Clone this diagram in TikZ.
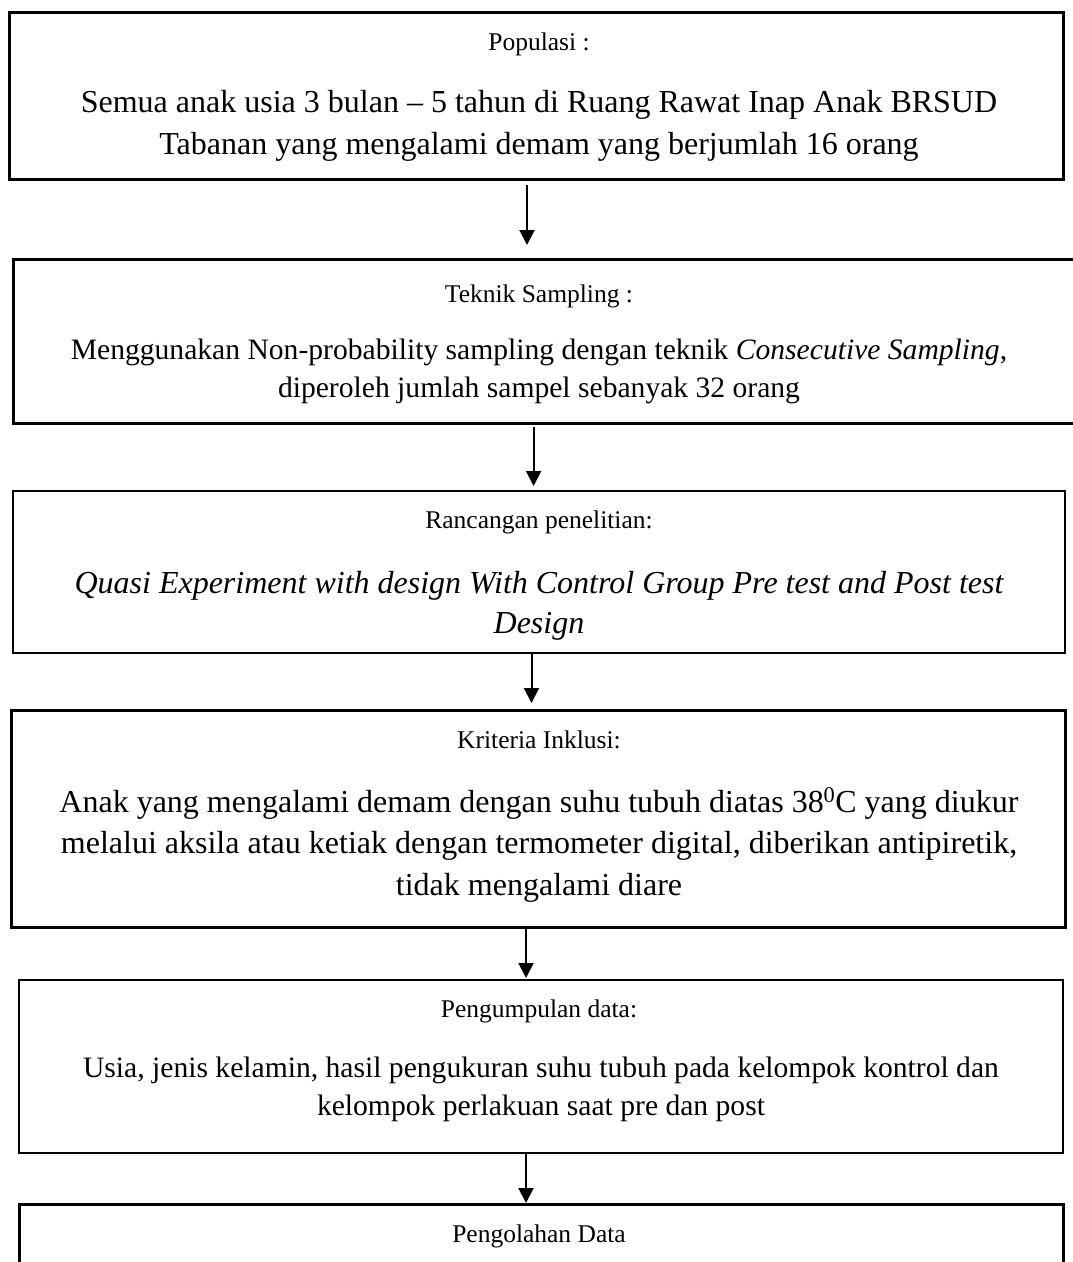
\documentclass[tikz,border=0pt]{standalone}
\usepackage{fontspec}
\setmainfont{Liberation Serif}
\usetikzlibrary{arrows.meta}
\tikzset{
  box/.style={draw=black, line width=#1, rectangle, inner sep=0pt, outer sep=0pt},
  box/.default=2pt,
  ttl/.style={anchor=base, inner sep=0pt, font=\fontsize{25.5}{30}\selectfont},
  bodyL/.style={anchor=base, inner sep=0pt, font=\fontsize{32}{38}\selectfont},
  bodyM/.style={anchor=base, inner sep=0pt, font=\fontsize{29.6}{35}\selectfont},
  arr/.style={line width=2pt, -{Triangle[length=15pt,width=15pt]}}
}
\begin{document}
\begin{tikzpicture}[x=1pt,y=-1pt]
\useasboundingbox[fill=white] (0,0) rectangle (1073,1262);

% boxes
\node[box=3pt, minimum width=1054pt, minimum height=167pt] (b1) at (536,95.5) {};
\node[box=3pt, minimum width=1062pt, minimum height=164pt] (b2) at (544,341) {};
\node[box=2pt, minimum width=1052pt, minimum height=162pt] (b3) at (539,572) {};
\node[box=3pt, minimum width=1054pt, minimum height=217pt] (b4) at (538,818.5) {};
\node[box=2pt, minimum width=1044pt, minimum height=173pt] (b5) at (541,1066.5) {};
\node[box=3pt, minimum width=1044pt, minimum height=86pt] (b6) at (541,1247) {};

% box 1
\node[ttl] (t1) at (539,50) {Populasi :};
\node[bodyL] (t1a) at (539,112) {Semua anak usia 3 bulan – 5 tahun di Ruang Rawat Inap Anak BRSUD};
\node[bodyL] (t1b) at (539,154) {Tabanan yang mengalami demam yang berjumlah 16 orang};

% box 2
\node[ttl] (t2) at (539,302) {Teknik Sampling :};
\node[bodyM] (t2a) at (539,359) {Menggunakan Non-probability sampling dengan teknik \textit{Consecutive Sampling},};
\node[bodyM] (t2b) at (539,397) {diperoleh jumlah sampel sebanyak 32 orang};

% box 3
\node[ttl] (t3) at (539,528) {Rancangan penelitian:};
\node[bodyL] (t3a) at (539,593) {\itshape Quasi Experiment with design With Control Group Pre test and Post test};
\node[bodyL] (t3b) at (539,633) {\itshape Design};

% box 4
\node[ttl] (t4) at (539,748) {Kriteria Inklusi:};
\node[bodyL] (t4a) at (539,812) {Anak yang mengalami demam dengan suhu tubuh diatas 38\textsuperscript{0}C yang diukur};
\node[bodyL] (t4b) at (539,853) {melalui aksila atau ketiak dengan termometer digital, diberikan antipiretik,};
\node[bodyL] (t4c) at (539,895) {tidak mengalami diare};

% box 5
\node[ttl] (t5) at (539,1017) {Pengumpulan data:};
\node[bodyM] (t5a) at (541,1077) {Usia, jenis kelamin, hasil pengukuran suhu tubuh pada kelompok kontrol dan};
\node[bodyM] (t5b) at (541,1115) {kelompok perlakuan saat pre dan post};

% box 6
\node[ttl] (t6) at (539,1242) {Pengolahan Data};

% arrows
\draw[arr] ([xshift=-9pt,yshift=-6pt]b1.south) -- ([xshift=-17pt,yshift=14pt]b2.north);
\draw[arr] ([xshift=-10.4pt,yshift=-4pt]b2.south) -- ([xshift=-5.4pt,yshift=5pt]b3.north);
\draw[arr] ([xshift=-7.5pt]b3.south) -- ([xshift=-6.5pt,yshift=7pt]b4.north);
\draw[arr] ([xshift=-12pt,yshift=-1pt]b4.south) -- ([xshift=-15pt,yshift=2pt]b5.north);
\draw[arr] ([xshift=-15pt]b5.south) -- ([xshift=-15pt,yshift=1pt]b6.north);
\end{tikzpicture}
\end{document}
